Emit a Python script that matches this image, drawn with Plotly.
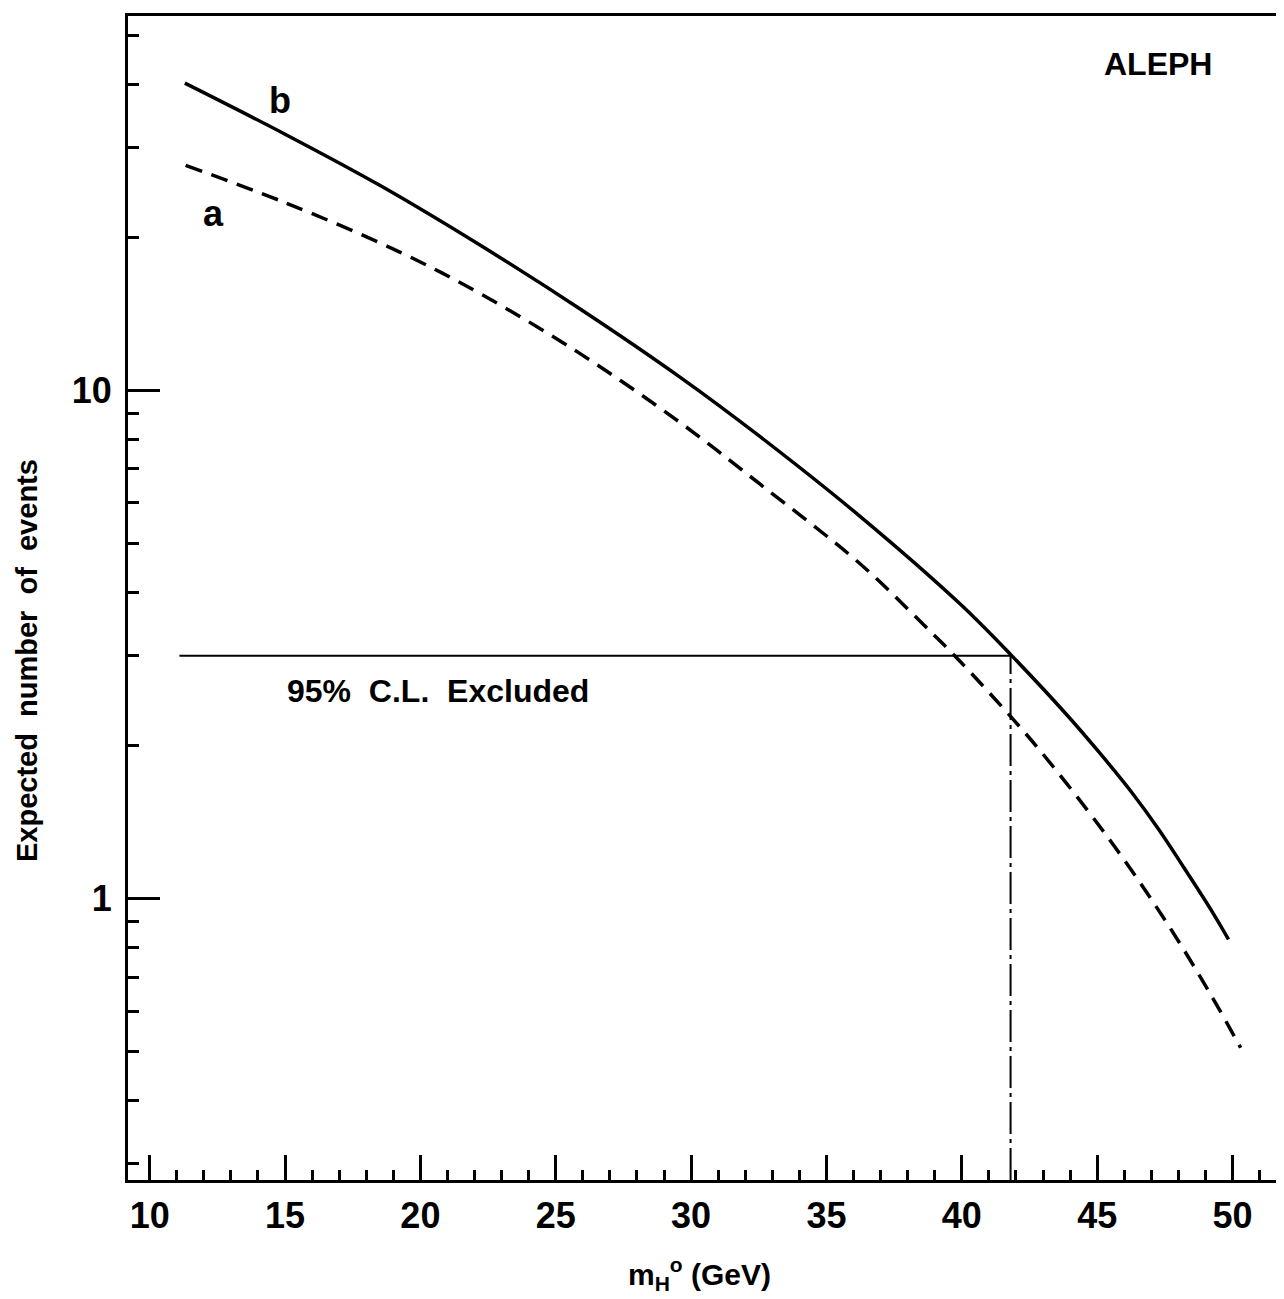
import math
import plotly.graph_objects as go

# Curve b (solid)
b_mass = [11.3, 15.0, 18.5, 22.2, 25.9, 29.6, 32.55, 36.25, 39.95, 41.85, 43.9, 45.1, 46.3, 47.3, 48.2, 49.2, 49.85]
b_events = [40.2, 31.9, 25.3, 19.3, 14.45, 10.6, 8.1, 5.64, 3.79, 3.0, 2.29, 1.93, 1.61, 1.36, 1.15, 0.95, 0.83]

# Curve a (dashed)
a_mass = [11.33, 15.0, 19.24, 22.2, 25.9, 29.6, 32.55, 36.25, 38.6, 39.95, 41.8, 42.9, 44.6, 45.9, 47.1, 48.2, 49.3, 50.3]
a_events = [27.7, 23.4, 18.7, 15.5, 11.8, 8.63, 6.53, 4.55, 3.45, 2.92, 2.28, 1.95, 1.50, 1.21, 0.977, 0.792, 0.632, 0.508]

# 95% CL exclusion
cl_level = 3.0
cl_mass_start = 11.1
cl_mass_limit = 41.8

x_major = [10, 15, 20, 25, 30, 35, 40, 45, 50]
y_major = [1, 10]
y_major_text = ["1", "10"]
y_minor = [0.3, 0.4, 0.5, 0.6, 0.7, 0.8, 0.9, 2, 3, 4, 5, 6, 7, 8, 9, 20, 30, 40, 50]

x_range = [9.2, 51.9]
y_range = [0.279, 54.5]

FONT = "Liberation Sans Narrow, Liberation Sans, Arial, sans-serif"

fig = go.Figure()

fig.add_trace(go.Scatter(x=b_mass, y=b_events, mode="lines", line=dict(color="black", width=3.5, shape="spline"),
                         showlegend=False, hoverinfo="skip"))
fig.add_trace(go.Scatter(x=a_mass, y=a_events, mode="lines",
                         line=dict(color="black", width=3.5, dash="17px,10px", shape="spline"),
                         showlegend=False, hoverinfo="skip"))
# horizontal CL line
fig.add_trace(go.Scatter(x=[cl_mass_start, cl_mass_limit], y=[cl_level, cl_level], mode="lines",
                         line=dict(color="black", width=2), showlegend=False, hoverinfo="skip"))
# vertical dash-dot line
fig.add_trace(go.Scatter(x=[cl_mass_limit, cl_mass_limit], y=[y_range[0], cl_level], mode="lines",
                         line=dict(color="black", width=2, dash="32px,5px,4px,5px"), showlegend=False, hoverinfo="skip"))

lg = math.log10
fig.add_annotation(x=47.25, y=lg(43.8), text="ALEPH", showarrow=False,
                   font=dict(family=FONT, size=32, color="black", weight=700), xanchor="center", yanchor="middle")
fig.add_annotation(x=14.8, y=lg(37.2), text="b", showarrow=False,
                   font=dict(family=FONT, size=36, color="black", weight=700), xanchor="center", yanchor="middle")
fig.add_annotation(x=12.34, y=lg(22.3), text="a", showarrow=False,
                   font=dict(family=FONT, size=36, color="black", weight=700), xanchor="center", yanchor="middle")
fig.add_annotation(x=15.0, y=lg(2.56), text="95%  C.L.  Excluded", showarrow=False,
                   font=dict(family=FONT, size=32, color="black", weight=700), xanchor="left", yanchor="middle")

# axis titles
fig.add_annotation(xref="paper", yref="paper", x=0.4948, y=-0.0808, text="m<sub>H</sub><sup>o</sup> (GeV)",
                   showarrow=False, font=dict(family=FONT, size=30, color="black", weight=700),
                   xanchor="center", yanchor="middle")
fig.add_annotation(xref="paper", yref="paper", x=-0.0874, y=0.4467, text="Expected  number  of  events",
                   textangle=-90, showarrow=False, font=dict(family=FONT, size=29, color="black", weight=700),
                   xanchor="center", yanchor="middle")

fig.update_xaxes(
    range=x_range, showline=True, linecolor="black", linewidth=3, mirror=True,
    showgrid=False, zeroline=False, automargin=False,
    tickmode="array", tickvals=x_major, ticks="inside", ticklen=25, tickwidth=3, tickcolor="black",
    ticklabelstandoff=2,
    tickfont=dict(family=FONT, size=36, color="black", weight=700),
    minor=dict(dtick=1, tick0=10, ticks="inside", ticklen=10, tickwidth=3, tickcolor="black", showgrid=False),
)
fig.update_yaxes(
    type="log", range=[lg(y_range[0]), lg(y_range[1])],
    showline=True, linecolor="black", linewidth=3, mirror=False,
    showgrid=False, zeroline=False, automargin=False,
    tickmode="array", tickvals=y_major, ticktext=y_major_text, ticks="inside", ticklen=32, tickwidth=3,
    tickcolor="black", ticklabelstandoff=6,
    tickfont=dict(family=FONT, size=36, color="black", weight=700),
    minor=dict(tickvals=y_minor, ticks="inside", ticklen=11, tickwidth=3, tickcolor="black", showgrid=False),
)

fig.update_layout(
    width=1276, height=1291,
    margin=dict(l=120, r=0, t=8, b=119),
    paper_bgcolor="white", plot_bgcolor="white",
    showlegend=False,
)

fig.write_html("out.html")
